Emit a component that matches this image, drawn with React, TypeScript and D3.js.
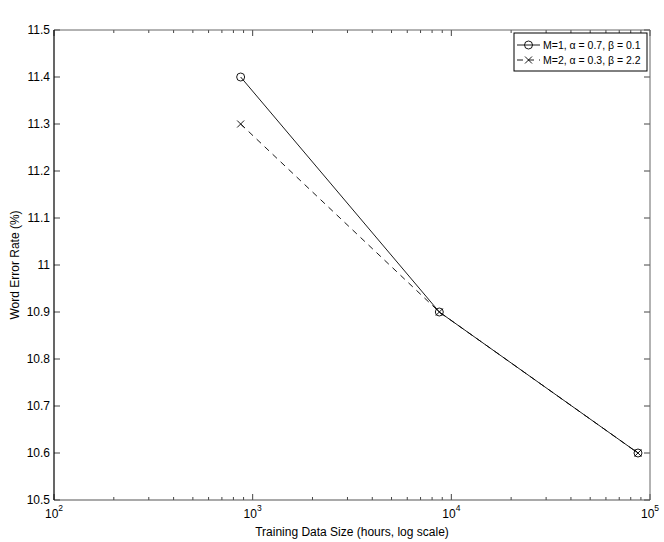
import React from 'react';
import * as d3 from 'd3';

// data
const trainingHours = [870, 8700, 87000];
const werM1 = [11.4, 10.9, 10.6];
const werM2 = [11.3, 10.9, 10.6];
const legendLabels = ['M=1, \u03B1 = 0.7, \u03B2 = 0.1', 'M=2, \u03B1 = 0.3, \u03B2 = 2.2'];
const yTicks = [10.5, 10.6, 10.7, 10.8, 10.9, 11, 11.1, 11.2, 11.3, 11.4, 11.5];
const xDecades = [2, 3, 4, 5];

const W = 664;
const H = 542;
const margin = { top: 30, right: 14, bottom: 42, left: 54 };
const FONT = '"Liberation Sans", Arial, Helvetica, sans-serif';

export default function App() {
  const innerW = W - margin.left - margin.right;
  const innerH = H - margin.top - margin.bottom;

  const x = d3.scaleLog().domain([100, 100000]).range([0, innerW]);
  const y = d3.scaleLinear().domain([10.5, 11.5]).range([innerH, 0]);

  const minorTicks: number[] = [];
  for (let e = 2; e < 5; e++) {
    for (let m = 2; m <= 9; m++) minorTicks.push(m * Math.pow(10, e));
  }

  const line = d3
    .line<number>()
    .x((_, i) => x(trainingHours[i]))
    .y((d) => y(d));

  const stroke = '#000';
  const axisStroke = '#444';

  const circle = (cx: number, cy: number, key?: string | number) => (
    <circle key={key} cx={cx} cy={cy} r={4} fill="none" stroke={stroke} strokeWidth={0.9} />
  );
  const cross = (cx: number, cy: number, key?: string | number) => (
    <path
      key={key}
      d={`M${cx - 3.5},${cy - 3.5}L${cx + 3.5},${cy + 3.5}M${cx - 3.5},${cy + 3.5}L${cx + 3.5},${cy - 3.5}`}
      stroke={stroke}
      strokeWidth={0.9}
    />
  );

  // legend box, in page coordinates relative to the plot group
  const lg = { x: 514 - margin.left, y: 33 - margin.top, w: 133, h: 38 };

  return (
    <svg
      width={W}
      height={H}
      style={{ position: 'absolute', left: 0, top: 0, background: '#fff', fontFamily: FONT }}
    >
      <rect width={W} height={H} fill="#fff" />
      <g transform={`translate(${margin.left},${margin.top})`}>
        {/* y ticks, inside on both sides */}
        {yTicks.map((t) => (
          <g key={'y' + t}>
            <line x1={0} x2={6} y1={y(t)} y2={y(t)} stroke={axisStroke} strokeWidth={1} />
            <line x1={innerW} x2={innerW - 6} y1={y(t)} y2={y(t)} stroke={axisStroke} strokeWidth={1} />
            <text x={-4} y={y(t)} dy="0.36em" textAnchor="end" fontSize={12} fill="#000">
              {d3.format('.10~g')(t)}
            </text>
          </g>
        ))}
        {/* x major ticks */}
        {xDecades.map((e) => {
          const px = x(Math.pow(10, e));
          return (
            <g key={'x' + e}>
              <line x1={px} x2={px} y1={innerH} y2={innerH - 6} stroke={axisStroke} strokeWidth={1} />
              <line x1={px} x2={px} y1={0} y2={6} stroke={axisStroke} strokeWidth={1} />
              <text x={px} y={innerH + 18} textAnchor="middle" fontSize={12} fill="#000">
                <tspan>10</tspan>
                <tspan dy={-7} fontSize={8.5}>{e}</tspan>
              </text>
            </g>
          );
        })}
        {/* x minor ticks */}
        {minorTicks.map((t) => (
          <g key={'m' + t}>
            <line x1={x(t)} x2={x(t)} y1={innerH} y2={innerH - 3} stroke={axisStroke} strokeWidth={1} />
            <line x1={x(t)} x2={x(t)} y1={0} y2={3} stroke={axisStroke} strokeWidth={1} />
          </g>
        ))}
        {/* axes box */}
        <line x1={0} x2={innerW} y1={0} y2={0} stroke="#666" strokeWidth={1} />
        <line x1={innerW} x2={innerW} y1={0} y2={innerH} stroke="#666" strokeWidth={1} />
        <line x1={0} x2={innerW} y1={innerH} y2={innerH} stroke="#555" strokeWidth={1.2} />
        <line x1={0} x2={0} y1={0} y2={innerH} stroke="#000" strokeWidth={1.2} />

        {/* series */}
        <path d={line(werM2) || ''} fill="none" stroke={stroke} strokeWidth={0.9} strokeDasharray="6,5" />
        <path d={line(werM1) || ''} fill="none" stroke={stroke} strokeWidth={0.9} />
        {werM1.map((v, i) => circle(x(trainingHours[i]), y(v), 'c' + i))}
        {werM2.map((v, i) => cross(x(trainingHours[i]), y(v), 'x' + i))}

        {/* legend */}
        <g transform={`translate(${lg.x},${lg.y})`}>
          <rect width={lg.w} height={lg.h} fill="#fff" stroke="#000" strokeWidth={1} />
          <line x1={3} x2={26} y1={12} y2={12} stroke={stroke} strokeWidth={0.9} />
          {circle(14.5, 12)}
          <text x={29} y={12} dy="0.36em" fontSize={10.5} fill="#000">
            {legendLabels[0]}
          </text>
          <line x1={3} x2={26} y1={27} y2={27} stroke={stroke} strokeWidth={0.9} strokeDasharray="6,5" />
          {cross(14.5, 27)}
          <text x={29} y={27} dy="0.36em" fontSize={10.5} fill="#000">
            {legendLabels[1]}
          </text>
        </g>
      </g>

      {/* axis titles */}
      <text x={margin.left + innerW / 2} y={H - 6} textAnchor="middle" fontSize={12} fill="#000">
        Training Data Size (hours, log scale)
      </text>
      <text
        transform={`translate(19,${margin.top + innerH / 2}) rotate(-90)`}
        textAnchor="middle"
        fontSize={12}
        fill="#000"
      >
        Word Error Rate (%)
      </text>
    </svg>
  );
}
